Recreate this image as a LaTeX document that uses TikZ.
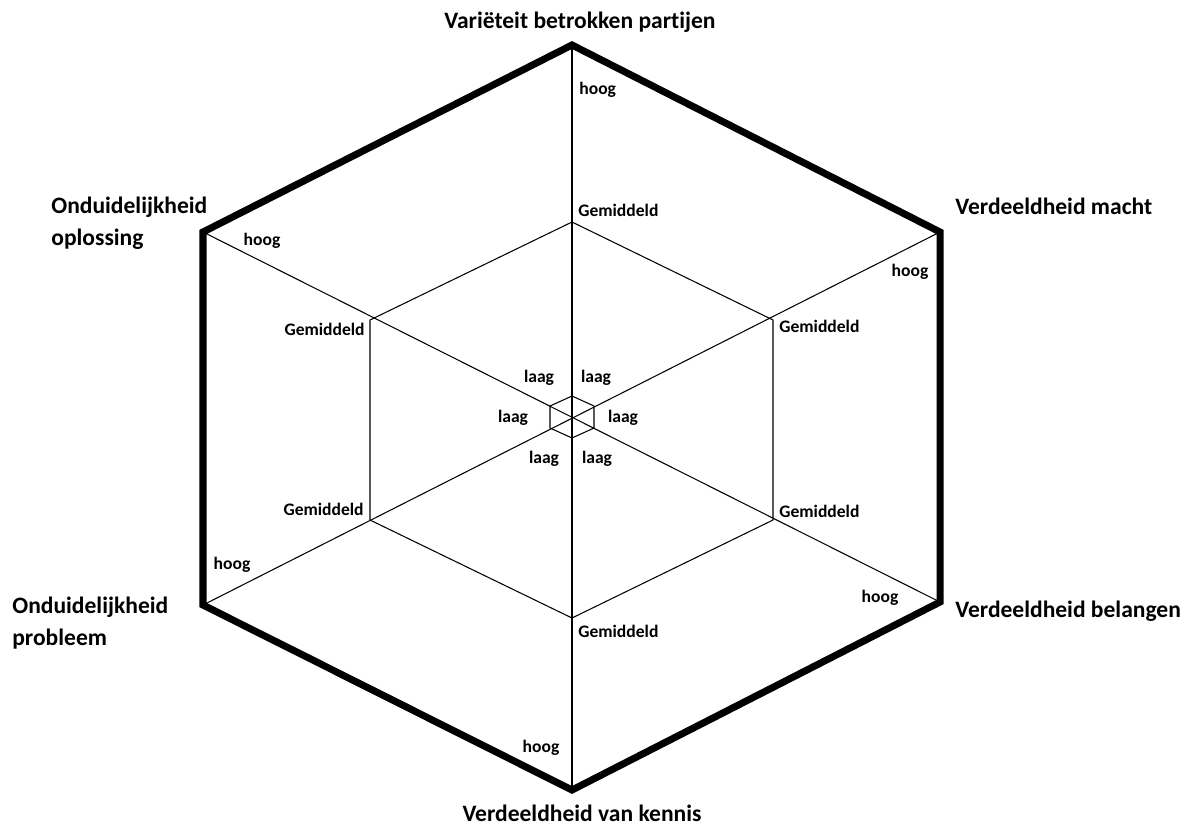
\documentclass[tikz,border=0pt]{standalone}
\usepackage{fontspec}
\setmainfont{Carlito}[Ligatures=NoCommon]
\tikzset{
  axis/.style={line width=0.6pt},
  rim/.style={line width=4pt, line join=miter},
  ring/.style={line width=0.6pt},
  level/.style={font=\bfseries\fontsize{10}{12}\selectfont, inner sep=0pt},
  dimension/.style={font=\bfseries\fontsize{13.4}{16}\selectfont, inner sep=0pt, align=left}
}
\begin{document}
\begin{tikzpicture}[x=0.02cm,y=-0.02cm]
			\useasboundingbox (0,0) rectangle (1195,826);
			% outer ring (hoog)
			\coordinate (T) at (572,45);
			\coordinate (UR) at (940,232);
			\coordinate (LR) at (940,602);
			\coordinate (B) at (572,790);
			\coordinate (LL) at (203,605);
			\coordinate (UL) at (203,232);
			% middle ring (gemiddeld)
			\coordinate (mT) at (572,222);
			\coordinate (mUR) at (773,320);
			\coordinate (mLR) at (773,520);
			\coordinate (mB) at (572,618);
			\coordinate (mLL) at (370,520);
			\coordinate (mUL) at (370,320);
			% inner ring (laag)
			\coordinate (iT) at (572,396);
			\coordinate (iUR) at (594,406);
			\coordinate (iLR) at (594,428);
			\coordinate (iB) at (572,438);
			\coordinate (iLL) at (550,428);
			\coordinate (iUL) at (550,406);

			\draw [axis] (T) -- (B);
			\draw [axis] (UL) -- (LR);
			\draw [axis] (UR) -- (LL);

			\draw [ring] (mT) -- (mUR) -- (mLR) -- (mB) -- (mLL) -- (mUL) -- cycle;
			\draw [ring] (iT) -- (iUR) -- (iLR) -- (iB) -- (iLL) -- (iUL) -- cycle;
			\draw [rim] (T) -- (UR) -- (LR) -- (B) -- (LL) -- (UL) -- cycle;

			% dimensions
			\node [dimension] (varieteit) at (580,22) {Variëteit betrokken partijen};
			\node [dimension, anchor=west] (macht) at (955,206) {Verdeeldheid macht};
			\node [dimension, anchor=west] (belangen) at (955,611) {Verdeeldheid belangen};
			\node [dimension] (kennis) at (582,813) {Verdeeldheid van kennis};
			\node [dimension, anchor=west] (oplossing) at (51,223) {Onduidelijkheid\\[2pt]oplossing};
			\node [dimension, anchor=west] (probleem) at (12,623) {Onduidelijkheid\\[2pt]probleem};

			% levels
			\node [level, anchor=west] (hoogT) at (579,90) {hoog};
			\node [level, anchor=west] (gemT) at (578,210) {Gemiddeld};
			\node [level] (hoogUL) at (262,241) {hoog};
			\node [level, anchor=east] (gemUL) at (365,329) {Gemiddeld};
			\node [level, anchor=west] (gemUR) at (779,326) {Gemiddeld};
			\node [level] (hoogUR) at (910,272) {hoog};
			\node [level, anchor=east] (gemLL) at (364,509) {Gemiddeld};
			\node [level] (hoogLL) at (232,565) {hoog};
			\node [level, anchor=west] (gemLR) at (779,511) {Gemiddeld};
			\node [level] (hoogLR) at (880,598) {hoog};
			\node [level, anchor=west] (gemB) at (578,631) {Gemiddeld};
			\node [level] (hoogB) at (541,748) {hoog};

			\node [level] (laag1) at (539,378) {laag};
			\node [level] (laag2) at (596,378) {laag};
			\node [level] (laag3) at (513,418) {laag};
			\node [level] (laag4) at (623,418) {laag};
			\node [level] (laag5) at (544,459) {laag};
			\node [level] (laag6) at (597,459) {laag};
		\end{tikzpicture}
\end{document}
